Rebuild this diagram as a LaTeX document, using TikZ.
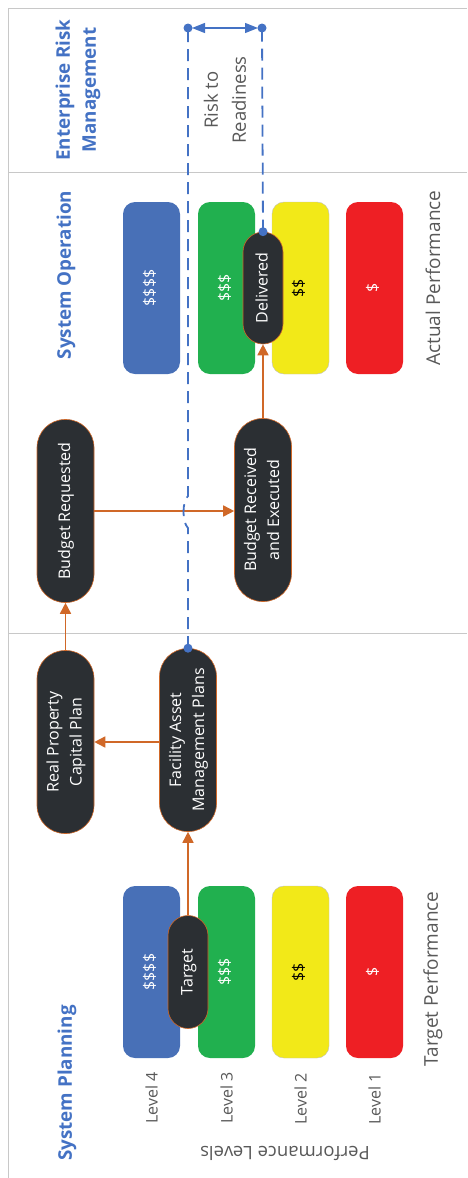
\documentclass[tikz,border=0pt]{standalone}
\usepackage{fontspec}
\setmainfont{Open Sans}
\usetikzlibrary{arrows.meta}

\definecolor{laneline}{RGB}{200,200,200}
\definecolor{titleblue}{RGB}{68,114,196}
\definecolor{notegray}{RGB}{89,89,89}
\definecolor{flow}{RGB}{208,104,40}
\definecolor{pillfill}{RGB}{43,47,51}
\definecolor{riskblue}{RGB}{68,114,196}
\definecolor{lvfour}{RGB}{72,112,183}
\definecolor{lvthree}{RGB}{33,176,79}
\definecolor{lvtwo}{RGB}{242,233,24}
\definecolor{lvone}{RGB}{238,31,36}

% text turned to read from bottom to top
\newcommand{\vtext}[1]{\rotatebox{90}{\begin{tabular}{@{}c@{}}#1\end{tabular}}}

\begin{document}
\begin{tikzpicture}[x=1pt,y=-1pt,
  lanerule/.style={draw=laneline, line width=0.9pt},
  lanetitle/.style={text=titleblue, font=\fontsize{18.8}{26}\selectfont\bfseries,
    rotate=90, align=center, inner sep=0pt},
  notetext/.style={text=notegray, font=\fontsize{19}{28}\selectfont,
    rotate=90, align=center, inner sep=0pt},
  levellabel/.style={text=notegray, font=\fontsize{16}{18}\selectfont,
    rotate=90, inner sep=0pt},
  levelbox/.style={rectangle, rounded corners=12pt, minimum width=57pt,
    minimum height=172pt, inner sep=0pt, font=\fontsize{16}{18}\selectfont},
  pill/.style={rectangle, rounded corners=#1, fill=pillfill, draw=flow,
    line width=0.6pt, text=white, inner sep=0pt,
    font=\fontsize{16}{23}\selectfont},
  pill/.default=28pt,
  flowarrow/.style={draw=flow, line width=1.6pt,
    -{Triangle[length=11pt,width=11pt]}},
  riskline/.style={draw=riskblue, line width=1.8pt, dash pattern=on 12pt off 7pt},
  riskdot/.style={fill=riskblue}
]
\useasboundingbox (0,0) rectangle (467,1178);

% lane frame
\draw[lanerule] (8,1178) -- (8,8) -- (467,8);
\draw[lanerule] (8,172) -- (467,172);
\draw[lanerule] (8,633) -- (467,633);

% lane titles
\node[lanetitle] (erm) at (78,90) {Enterprise Risk\\Management};
\node[lanetitle] (sysop) at (66,275) {System Operation};
\node[lanetitle] (syspl) at (67,1083) {System Planning};

% performance level boxes, operation lane
\node[levelbox, fill=lvfour, text=white] (op4) at (151.5,288) {\vtext{\$\$\$\$}};
\node[levelbox, fill=lvthree, text=white] (op3) at (226.5,288) {\vtext{\$\$\$}};
\node[levelbox, fill=lvtwo, draw=black!25, line width=0.4pt, text=black] (op2) at (300.5,288) {\vtext{\$\$}};
\node[levelbox, fill=lvone, text=white] (op1) at (374.5,288) {\vtext{\$}};

% performance level boxes, planning lane
\node[levelbox, fill=lvfour, text=white] (pl4) at (151.5,972) {\vtext{\$\$\$\$}};
\node[levelbox, fill=lvthree, text=white] (pl3) at (226.5,972) {\vtext{\$\$\$}};
\node[levelbox, fill=lvtwo, draw=black!25, line width=0.4pt, text=black] (pl2) at (300.5,972) {\vtext{\$\$}};
\node[levelbox, fill=lvone, text=white] (pl1) at (374.5,972) {\vtext{\$}};

% level labels
\node[levellabel] (lab4) at (151.5,1098) {Level 4};
\node[levellabel] (lab3) at (226.5,1098) {Level 3};
\node[levellabel] (lab2) at (300.5,1099) {Level 2};
\node[levellabel] (lab1) at (374.5,1099) {Level 1};
\node[text=notegray, font=\fontsize{18.5}{20}\selectfont, rotate=180, inner sep=0pt]
  (perflev) at (285,1153) {Performance Levels};

\node[notetext] (actual) at (433,278) {Actual Performance};
\node[notetext] (targetperf) at (433,979) {Target Performance};

% process steps
\node[pill=20pt, minimum width=40pt, minimum height=113pt] (target) at (188,972) {\vtext{Target}};
\node[pill=20pt, minimum width=40pt, minimum height=112pt] (deliv) at (263,288) {\vtext{Delivered}};
\node[pill, minimum width=57pt, minimum height=183pt] (fac) at (188,740) {\vtext{Facility Asset\\Management Plans}};
\node[pill, minimum width=57pt, minimum height=183pt] (rp) at (65.5,742) {\vtext{Real Property\\Capital Plan}};
\node[pill, minimum width=57pt, minimum height=183pt] (breq) at (65.5,511) {\vtext{Budget Requested}};
\node[pill, minimum width=57pt, minimum height=183pt] (brex) at (263,510) {\vtext{Budget Received\\and Executed}};

% flow
\draw[flowarrow] (target) -- (fac);
\draw[flowarrow] (fac.west |- rp) -- (rp);
\draw[flowarrow] (rp) -- (breq);
\draw[flowarrow] (breq) -- (brex.west |- breq);
\draw[flowarrow] (brex) -- (deliv);

% risk to readiness
\coordinate (topL) at (188,28);
\coordinate (topR) at (262,28);
\draw[riskline] (fac.north) -- (188,528) .. controls (182,522) and (182,502) .. (188,496) -- (topL);
\draw[riskline] (deliv.north) -- (topR);
\fill[riskdot] (fac.north) circle (4.5pt);
\fill[riskdot] (deliv.north) circle (4.5pt);
\fill[riskdot] (topL) circle (4.5pt);
\fill[riskdot] (topR) circle (4.5pt);
\draw[draw=riskblue, line width=1.4pt,
  {Triangle[length=13pt,width=10pt]}-{Triangle[length=13pt,width=10pt]},
  shorten <=4pt, shorten >=4pt] (topL) -- (topR);
\node[notetext, font=\fontsize{18.5}{28}\selectfont] (r2r) at (225,100) {Risk to\\Readiness};
\end{tikzpicture}
\end{document}
